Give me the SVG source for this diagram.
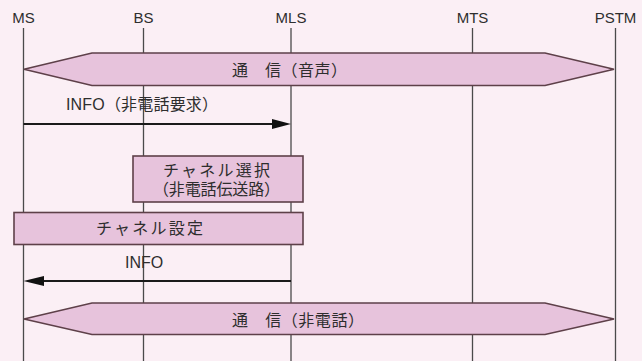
<svg xmlns="http://www.w3.org/2000/svg" width="642" height="361" viewBox="0 0 642 361">
<style>
.bg{fill:#fbeff5}
.life{stroke:#4a4a4a;stroke-width:1.3;fill:none}
.shape{fill:#e7c3dc;stroke:#5e4049;stroke-width:1.6}
.lbl{font-family:"Liberation Sans",Arial,sans-serif;font-size:15px;fill:#2e2e2e;text-anchor:middle}
.jp{font-family:"Liberation Sans","Noto Sans CJK JP",sans-serif;font-size:16px;fill:#2e2e2e}
.msg{stroke:#1a1a1a;stroke-width:2;fill:none}
.head{fill:#111}
</style>
<rect class="bg" x="0" y="0" width="642" height="361"/>
<g id="lifelines">
<g id="MS"><text class="lbl" x="23.5" y="23">MS</text><line class="life" x1="23.5" y1="28" x2="23.5" y2="361"/></g>
<g id="BS"><text class="lbl" x="143.5" y="23">BS</text><line class="life" x1="143.5" y1="28" x2="143.5" y2="361"/></g>
<g id="MLS"><text class="lbl" x="291" y="23">MLS</text><line class="life" x1="291" y1="28" x2="291" y2="361"/></g>
<g id="MTS"><text class="lbl" x="472.5" y="23">MTS</text><line class="life" x1="472.5" y1="28" x2="472.5" y2="361"/></g>
<g id="PSTM"><text class="lbl" x="615.5" y="23">PSTM</text><line class="life" x1="615.5" y1="28" x2="615.5" y2="361"/></g>
</g>
<g id="comm-voice">
<polygon class="shape" points="24,69.2 92,53 545,53 614,69.2 545,85.5 92,85.5"/>
<text class="jp" x="232" y="76" textLength="115" lengthAdjust="spacing">通　信（音声）</text>
</g>
<g id="channel-select">
<rect class="shape" x="133" y="156" width="170" height="46"/>
<text class="jp" x="163" y="175.5" textLength="107" lengthAdjust="spacing">チャネル選択</text>
<text class="jp" x="153" y="195" textLength="127" lengthAdjust="spacing">（非電話伝送路）</text>
</g>
<g id="channel-setup">
<rect class="shape" x="14" y="212.5" width="289" height="32"/>
<text class="jp" x="96" y="233.5" textLength="107" lengthAdjust="spacing">チャネル設定</text>
</g>
<g id="comm-data">
<polygon class="shape" points="24,319 92,303 545,303 614,319 545,334.5 92,334.5"/>
<text class="jp" x="232" y="325.5" textLength="132" lengthAdjust="spacing">通　信（非電話）</text>
</g>
<g id="connectors">
<g id="info-req">
<line class="msg" x1="23.5" y1="124" x2="274" y2="124"/>
<polygon class="head" points="291,124 272,119 272,129"/>
<text class="jp" x="66" y="110" font-size="15" textLength="152" lengthAdjust="spacing">INFO（非電話要求）</text>
</g>
<g id="info-resp">
<line class="msg" x1="291" y1="281" x2="42" y2="281"/>
<polygon class="head" points="23.5,281 44,276 44,286"/>
<text class="jp" x="125" y="268" font-size="15">INFO</text>
</g>
</g>
</svg>
